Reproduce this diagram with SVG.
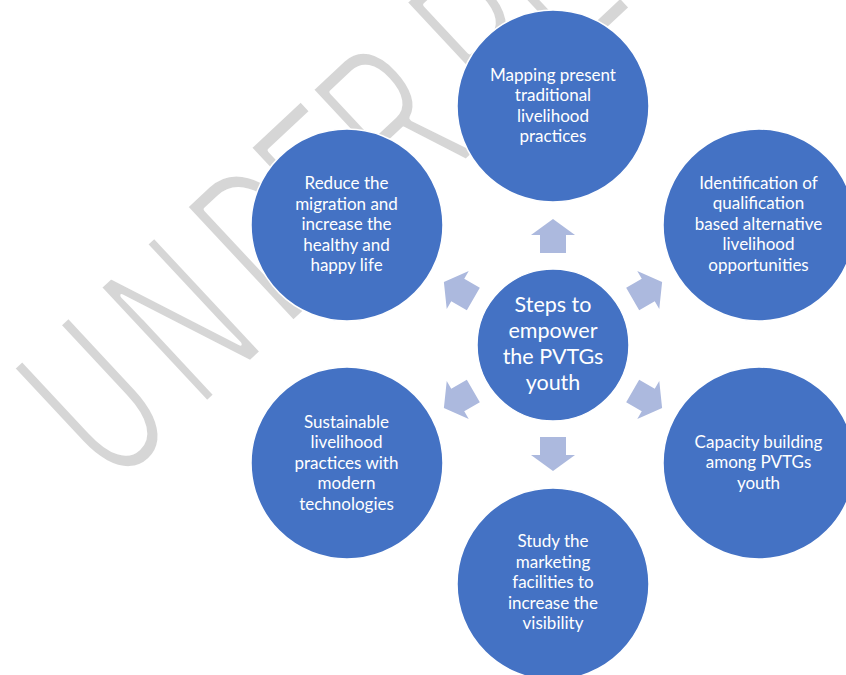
<svg xmlns="http://www.w3.org/2000/svg" width="846" height="675" viewBox="0 0 846 675">
<style>
.node{fill:#4472C4;stroke:#ffffff;stroke-width:1.5}
.lbl{font-family:Lato,"Liberation Sans",sans-serif;font-size:17px;fill:#ffffff;text-anchor:middle}
.ctr{font-family:Lato,"Liberation Sans",sans-serif;font-size:21.5px;fill:#ffffff;text-anchor:middle}
.arr{fill:#ACB9DE}
.wm{font-family:"Liberation Sans",sans-serif;font-size:232px;fill:#D6D6D6;stroke:#ffffff;stroke-width:5;vector-effect:non-scaling-stroke;stroke-linejoin:round}
</style>
<defs>
<path id="arrowUp" d="M531,235 L553,219 L575,235 L566,235 L566,253 L540,253 L540,235 Z"/>
</defs>
<rect x="0" y="0" width="846" height="675" fill="#ffffff"/>
<g id="watermark">
<text class="wm" transform="translate(298,319.4) rotate(-43) scale(0.574,1)" x="-439 -233.4 -27.9 123.7 271.8 430.8 494.8">UNDER PEER REVIEW</text>
</g>
<g id="connectors">
<use href="#arrowUp" class="arr"/>
<use href="#arrowUp" class="arr" transform="rotate(60 553 345)"/>
<use href="#arrowUp" class="arr" transform="rotate(120 553 345)"/>
<use href="#arrowUp" class="arr" transform="rotate(180 553 345)"/>
<use href="#arrowUp" class="arr" transform="rotate(240 553 345)"/>
<use href="#arrowUp" class="arr" transform="rotate(300 553 345)"/>
</g>
<g id="node-center">
<circle class="node" cx="553" cy="345" r="76"/>
<text class="ctr"><tspan x="553" y="311.5">Steps to</tspan><tspan x="553" y="337.8">empower</tspan><tspan x="553" y="364.1">the PVTGs</tspan><tspan x="553" y="390.4">youth</tspan></text>
</g>
<g id="node-top">
<circle class="node" cx="553" cy="106" r="96"/>
<text class="lbl"><tspan x="553" y="80.5">Mapping present</tspan><tspan x="553" y="101">traditional</tspan><tspan x="553" y="121.5">livelihood</tspan><tspan x="553" y="142">practices</tspan></text>
</g>
<g id="node-upper-right">
<circle class="node" cx="759" cy="225" r="96"/>
<text class="lbl"><tspan x="758.5" y="188.5">Identification of</tspan><tspan x="758.5" y="209">qualification</tspan><tspan x="758.5" y="229.5">based alternative</tspan><tspan x="758.5" y="250">livelihood</tspan><tspan x="758.5" y="270.5">opportunities</tspan></text>
</g>
<g id="node-lower-right">
<circle class="node" cx="759" cy="463" r="96"/>
<text class="lbl"><tspan x="758.5" y="447.5">Capacity building</tspan><tspan x="758.5" y="468">among PVTGs</tspan><tspan x="758.5" y="488.5">youth</tspan></text>
</g>
<g id="node-bottom">
<circle class="node" cx="553" cy="584" r="96"/>
<text class="lbl"><tspan x="553" y="547">Study the</tspan><tspan x="553" y="567.5">marketing</tspan><tspan x="553" y="588">facilities to</tspan><tspan x="553" y="608.5">increase the</tspan><tspan x="553" y="629">visibility</tspan></text>
</g>
<g id="node-lower-left">
<circle class="node" cx="347" cy="463" r="96"/>
<text class="lbl"><tspan x="346.5" y="427.5">Sustainable</tspan><tspan x="346.5" y="448">livelihood</tspan><tspan x="346.5" y="468.5">practices with</tspan><tspan x="346.5" y="489">modern</tspan><tspan x="346.5" y="509.5">technologies</tspan></text>
</g>
<g id="node-upper-left">
<circle class="node" cx="347" cy="225" r="96"/>
<text class="lbl"><tspan x="346.5" y="189">Reduce the</tspan><tspan x="346.5" y="209.5">migration and</tspan><tspan x="346.5" y="230">increase the</tspan><tspan x="346.5" y="250.5">healthy and</tspan><tspan x="346.5" y="271">happy life</tspan></text>
</g>
</svg>
